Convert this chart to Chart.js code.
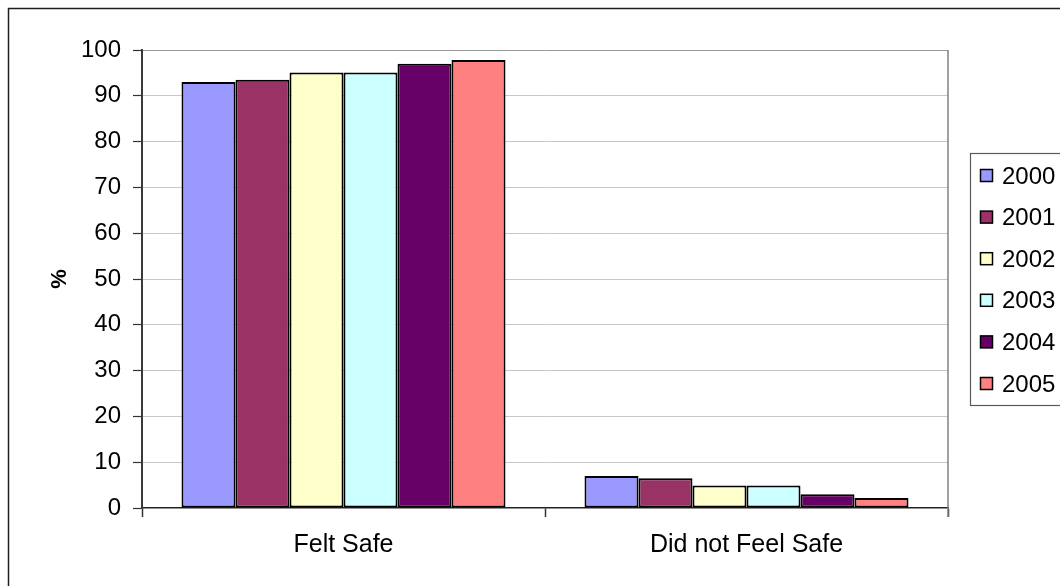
<!DOCTYPE html>
<html>
<head>
<meta charset="utf-8">
<style>
  html, body { margin: 0; padding: 0; background: #ffffff; }
  #wrap { width: 1060px; height: 586px; position: relative; }
</style>
<script src="https://cdn.jsdelivr.net/npm/chart.js@4.4.1/dist/chart.umd.min.js"></script>
</head>
<body>
<div id="wrap"><canvas id="chart" width="1060" height="586"></canvas></div>
<script>
// Survey answers by year, in percent
const categories = ['Felt Safe', 'Did not Feel Safe'];
const years = ['2000', '2001', '2002', '2003', '2004', '2005'];
const feltSafe    = [93.0, 93.5, 95.1, 95.1, 97.0, 97.8];
const notFeltSafe = [7.0, 6.5, 4.9, 4.9, 3.0, 2.2];
const yTicks = [0, 10, 20, 30, 40, 50, 60, 70, 80, 90, 100];

const colors = ['#9999FF', '#993366', '#FFFFCC', '#CCFFFF', '#660066', '#FF8080'];
const FONT = "'Liberation Sans', Arial, Helvetica, sans-serif";

const datasets = years.map((y, i) => ({
  label: y,
  data: [feltSafe[i], notFeltSafe[i]],
  backgroundColor: colors[i],
  borderColor: '#000000',
  borderWidth: 2,
  borderSkipped: false,
  categoryPercentage: 0.804,
  barPercentage: 1.0
}));

// White page, outer frame and the plot-area right edge
const framePlugin = {
  id: 'frame',
  beforeDraw(chart) {
    const c = chart.ctx;
    c.save();
    c.fillStyle = '#ffffff';
    c.fillRect(0, 0, chart.width, chart.height);
    c.strokeStyle = '#1e1e1e';
    c.lineWidth = 1.5;
    c.strokeRect(8.5, 8.5, 1200, 1200);
    c.restore();
  },
  afterDatasetsDraw(chart) {
    const a = chart.chartArea;
    const c = chart.ctx;
    c.save();
    c.strokeStyle = '#808080';
    c.lineWidth = 1.5;
    c.beginPath();
    c.moveTo(a.right, a.top);
    c.lineTo(a.right, a.bottom + 9);
    c.stroke();
    c.restore();
  }
};

// Boxed legend on the right
const boxLegend = {
  id: 'boxLegend',
  afterDraw(chart) {
    const c = chart.ctx;
    c.save();
    c.strokeStyle = '#5a5a5a';
    c.lineWidth = 1.2;
    c.strokeRect(970.5, 153.5, 200, 252);
    c.font = '24px ' + FONT;
    c.textBaseline = 'middle';
    c.textAlign = 'left';
    chart.data.datasets.forEach((ds, i) => {
      const cy = 176 + i * 41.6;
      c.fillStyle = ds.backgroundColor;
      c.fillRect(980.5, cy - 6.5, 12, 12);
      c.strokeStyle = '#000000';
      c.lineWidth = 1.5;
      c.strokeRect(980.5, cy - 6.5, 12, 12);
      c.fillStyle = '#000000';
      c.fillText(ds.label, 1002, cy + 1);
    });
    c.restore();
  }
};

new Chart(document.getElementById('chart'), {
  type: 'bar',
  data: { labels: categories, datasets },
  options: {
    responsive: false,
    animation: false,
    devicePixelRatio: 1,
    layout: { padding: { top: 50, right: 112, bottom: 0, left: 0 } },
    plugins: {
      legend: { display: false },
      tooltip: { enabled: false }
    },
    scales: {
      x: {
        offset: true,
        grid: {
          offset: true,
          drawOnChartArea: false,
          drawTicks: true,
          tickLength: 9,
          tickColor: '#333333',
          tickWidth: 1.5
        },
        border: { display: true, color: '#222222', width: 1.5 },
        ticks: {
          color: '#000000',
          padding: 13,
          font: { family: FONT, size: 25 }
        },
        afterFit(scale) { scale.height = 78; }
      },
      y: {
        min: 0,
        max: 100,
        afterBuildTicks(scale) { scale.ticks = yTicks.map(v => ({ value: v })); },
        grid: {
          color(ctx) {
            if (ctx.tick && ctx.tick.value === 0) return 'rgba(0,0,0,0)';
            if (ctx.tick && ctx.tick.value === 100) return '#9a9a9a';
            return '#c8c8c8';
          },
          lineWidth: 1,
          drawTicks: true,
          tickLength: 9,
          tickColor: '#333333',
          tickWidth: 1.2
        },
        border: { display: true, color: '#3a3a3a', width: 2 },
        ticks: {
          color: '#000000',
          padding: 12,
          font: { family: FONT, size: 24 }
        },
        title: {
          display: true,
          text: '%',
          color: '#000000',
          font: { family: FONT, size: 22, weight: 'bold' },
          padding: { top: 47, bottom: 0 }
        },
        afterFit(scale) { scale.width = 142; }
      }
    }
  },
  plugins: [framePlugin, boxLegend]
});
</script>
</body>
</html>
